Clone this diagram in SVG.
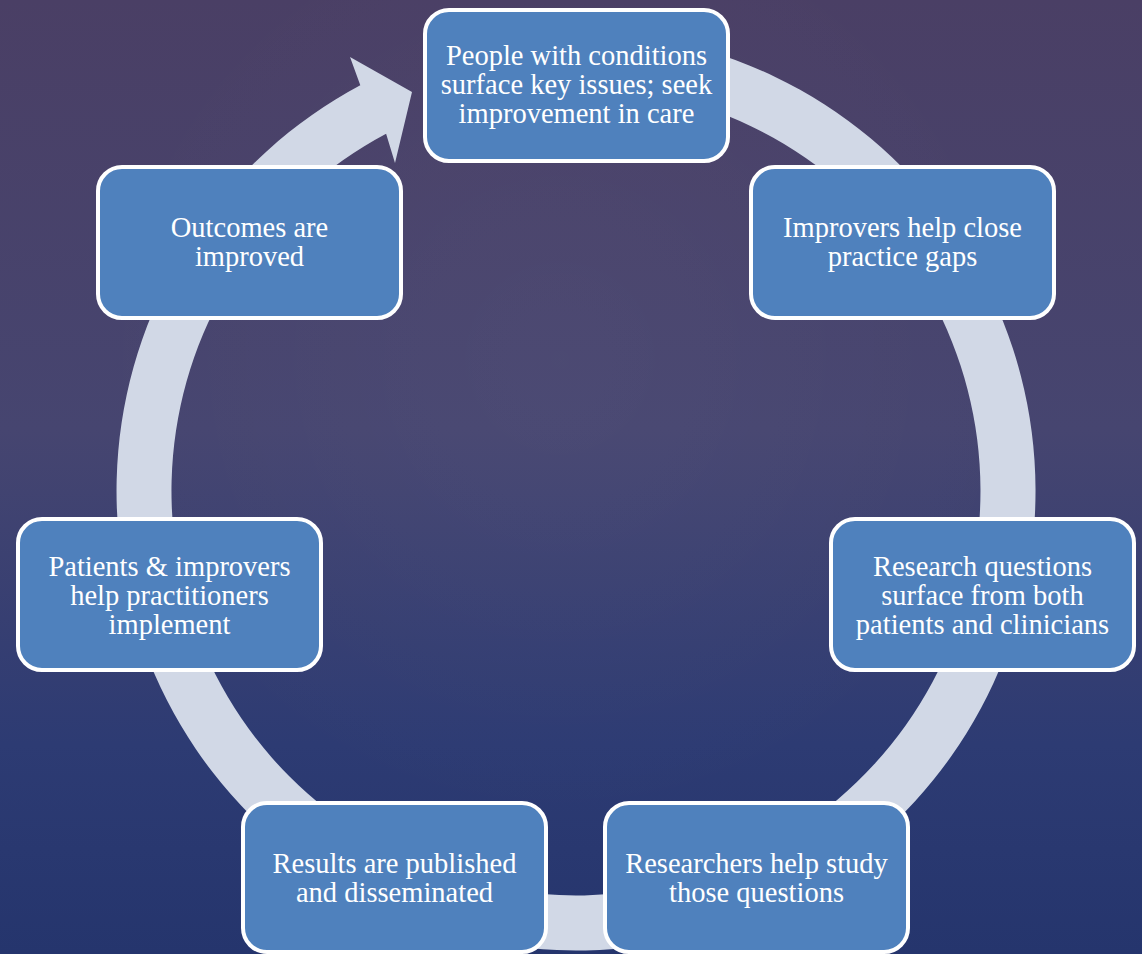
<svg xmlns="http://www.w3.org/2000/svg" width="1142" height="954" viewBox="0 0 1142 954">
  <defs>
    <linearGradient id="bg" x1="0" y1="0" x2="0" y2="1">
      <stop offset="0" stop-color="#4A3F65"/>
      <stop offset="0.45" stop-color="#464570"/>
      <stop offset="0.78" stop-color="#2D3B73"/>
      <stop offset="1" stop-color="#25356D"/>
    </linearGradient>
    <radialGradient id="glow" cx="560" cy="360" r="480" gradientUnits="userSpaceOnUse">
      <stop offset="0" stop-color="#FFFFFF" stop-opacity="0.03"/>
      <stop offset="1" stop-color="#FFFFFF" stop-opacity="0"/>
    </radialGradient>
    <style>
      .box { fill: #4F81BD; stroke: #FFFFFF; stroke-width: 4; }
      .lbl { font-family: "Liberation Serif", "Times New Roman", serif; font-size: 28.5px; fill: #FFFFFF; text-anchor: middle; }
      .ring { fill: #D1D8E6; stroke: none; }
    </style>
  </defs>

  <!-- background -->
  <rect width="1142" height="954" fill="url(#bg)"/>
  <rect width="1142" height="954" fill="url(#glow)"/>

  <!-- circular cycle arrow: outer arc, arrowhead, inner arc back -->
  <g id="connectors">
    <path class="ring" d="M 496.2 38.5 A 459.5 459.5 0 1 1 360.3 85.3 L 350 57 L 412 92 L 395 163 L 386.1 133.8 A 404.5 404.5 0 1 0 505.8 92.6 Z"/>
  </g>

  <g id="node-people">
    <rect class="box" x="425" y="10" width="303" height="151" rx="24"/>
    <text class="lbl" x="576.5" y="65">People with conditions</text>
    <text class="lbl" x="576.5" y="94">surface key issues; seek</text>
    <text class="lbl" x="576.5" y="123">improvement in care</text>
  </g>

  <g id="node-improvers">
    <rect class="box" x="751" y="167" width="303" height="151" rx="24"/>
    <text class="lbl" x="902.5" y="237">Improvers help close</text>
    <text class="lbl" x="902.5" y="266">practice gaps</text>
  </g>

  <g id="node-questions">
    <rect class="box" x="831" y="519" width="303" height="151" rx="24"/>
    <text class="lbl" x="982.5" y="576">Research questions</text>
    <text class="lbl" x="982.5" y="605">surface from both</text>
    <text class="lbl" x="982.5" y="634">patients and clinicians</text>
  </g>

  <g id="node-researchers">
    <rect class="box" x="605" y="803" width="303" height="149" rx="24"/>
    <text class="lbl" x="756.5" y="873">Researchers help study</text>
    <text class="lbl" x="756.5" y="902">those questions</text>
  </g>

  <g id="node-results">
    <rect class="box" x="243" y="803" width="303" height="149" rx="24"/>
    <text class="lbl" x="394.5" y="873">Results are published</text>
    <text class="lbl" x="394.5" y="902">and disseminated</text>
  </g>

  <g id="node-implement">
    <rect class="box" x="18" y="519" width="303" height="151" rx="24"/>
    <text class="lbl" x="169.5" y="576">Patients &amp; improvers</text>
    <text class="lbl" x="169.5" y="605">help practitioners</text>
    <text class="lbl" x="169.5" y="634">implement</text>
  </g>

  <g id="node-outcomes">
    <rect class="box" x="98" y="167" width="303" height="151" rx="24"/>
    <text class="lbl" x="249.5" y="237">Outcomes are</text>
    <text class="lbl" x="249.5" y="266">improved</text>
  </g>
</svg>
